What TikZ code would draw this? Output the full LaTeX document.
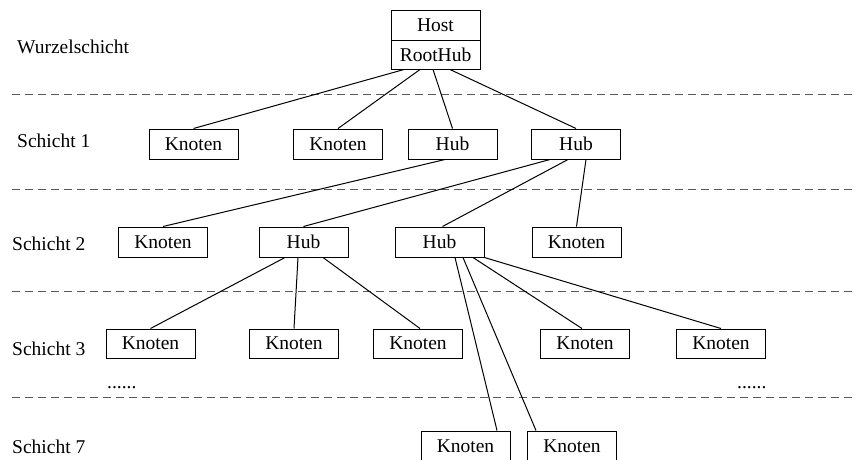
\documentclass[tikz,border=0pt]{standalone}
\usepackage{fontspec}
\setmainfont{Liberation Serif}
\begin{document}
\begin{tikzpicture}[x=1pt,y=-1pt,
  every node/.style={font=\fontsize{19.5}{23}\selectfont},
  box/.style={draw=black,line width=1pt,rectangle,minimum width=89pt,minimum height=30pt,inner sep=0pt},
  link/.style={draw=black,line width=1pt},
  sep/.style={draw=black!65,line width=1pt,dash pattern=on 8pt off 5pt},
  layer/.style={anchor=base west,inner sep=0pt}]
\useasboundingbox (0,0) rectangle (857,459);

% layer separators
\foreach \yy in {94,189,291,397}
  \draw[sep] (12,\yy) -- (857,\yy);

% layer names
\node[layer] (lw) at (17,53) {Wurzelschicht};
\node[layer] (l1) at (17,147) {Schicht 1};
\node[layer] (l2) at (12,250) {Schicht 2};
\node[layer] (l3) at (12,355) {Schicht 3};
\node[layer] (l7) at (12,453) {Schicht 7};
\node[layer] (dl) at (107,388) {......};
\node[layer] (dr) at (737,388) {......};

% root
\node[box] (host) at (435.5,25) {Host};
\node[box,minimum height=29pt] (root) at (435.5,54.5) {RootHub};

% layer 1
\node[box] (a1) at (193.5,144) {Knoten};
\node[box] (b1) at (338,144) {Knoten};
\node[box] (c1) at (452.5,144) {Hub};
\node[box] (d1) at (576,144) {Hub};

% layer 2
\node[box] (a2) at (163,242) {Knoten};
\node[box] (b2) at (303.5,242) {Hub};
\node[box] (c2) at (439.5,242) {Hub};
\node[box] (d2) at (576.5,242) {Knoten};

% layer 3
\node[box,minimum height=29pt] (a3) at (150.5,343.5) {Knoten};
\node[box,minimum height=29pt] (b3) at (294,343.5) {Knoten};
\node[box,minimum height=29pt] (c3) at (418,343.5) {Knoten};
\node[box,minimum height=29pt] (d3) at (585,343.5) {Knoten};
\node[box,minimum height=29pt] (e3) at (721,343.5) {Knoten};

% layer 7
\node[box] (a7) at (465.5,446) {Knoten};
\node[box] (b7) at (572,446) {Knoten};

% connections
\draw[link] ([xshift=-31.5pt]root.south) -- (a1.north);
\draw[link] ([xshift=-15.5pt]root.south) -- (b1.north);
\draw[link] ([xshift=-2.5pt]root.south) -- (c1.north);
\draw[link] ([xshift=14.5pt]root.south) -- (d1.north);

\draw[link] ([xshift=-7.5pt]c1.south) -- (a2.north);
\draw[link] ([xshift=-26pt]d1.south) -- (b2.north);
\draw[link] ([xshift=-8pt]d1.south) -- ([xshift=3pt]c2.north);
\draw[link] ([xshift=10pt]d1.south) -- (d2.north);

\draw[link] ([xshift=-18.5pt]b2.south) -- (a3.north);
\draw[link] ([xshift=-5.5pt]b2.south) -- (b3.north);
\draw[link] ([xshift=19.5pt]b2.south) -- ([xshift=2pt]c3.north);

\draw[link] ([xshift=15.5pt]c2.south) -- ([xshift=31.5pt]a7.north);
\draw[link] ([xshift=23.5pt]c2.south) -- ([xshift=-36pt]b7.north);
\draw[link] ([xshift=33.5pt]c2.south) -- ([xshift=-3pt]d3.north);
\draw[link] (c2.south east) -- (e3.north);
\end{tikzpicture}
\end{document}
